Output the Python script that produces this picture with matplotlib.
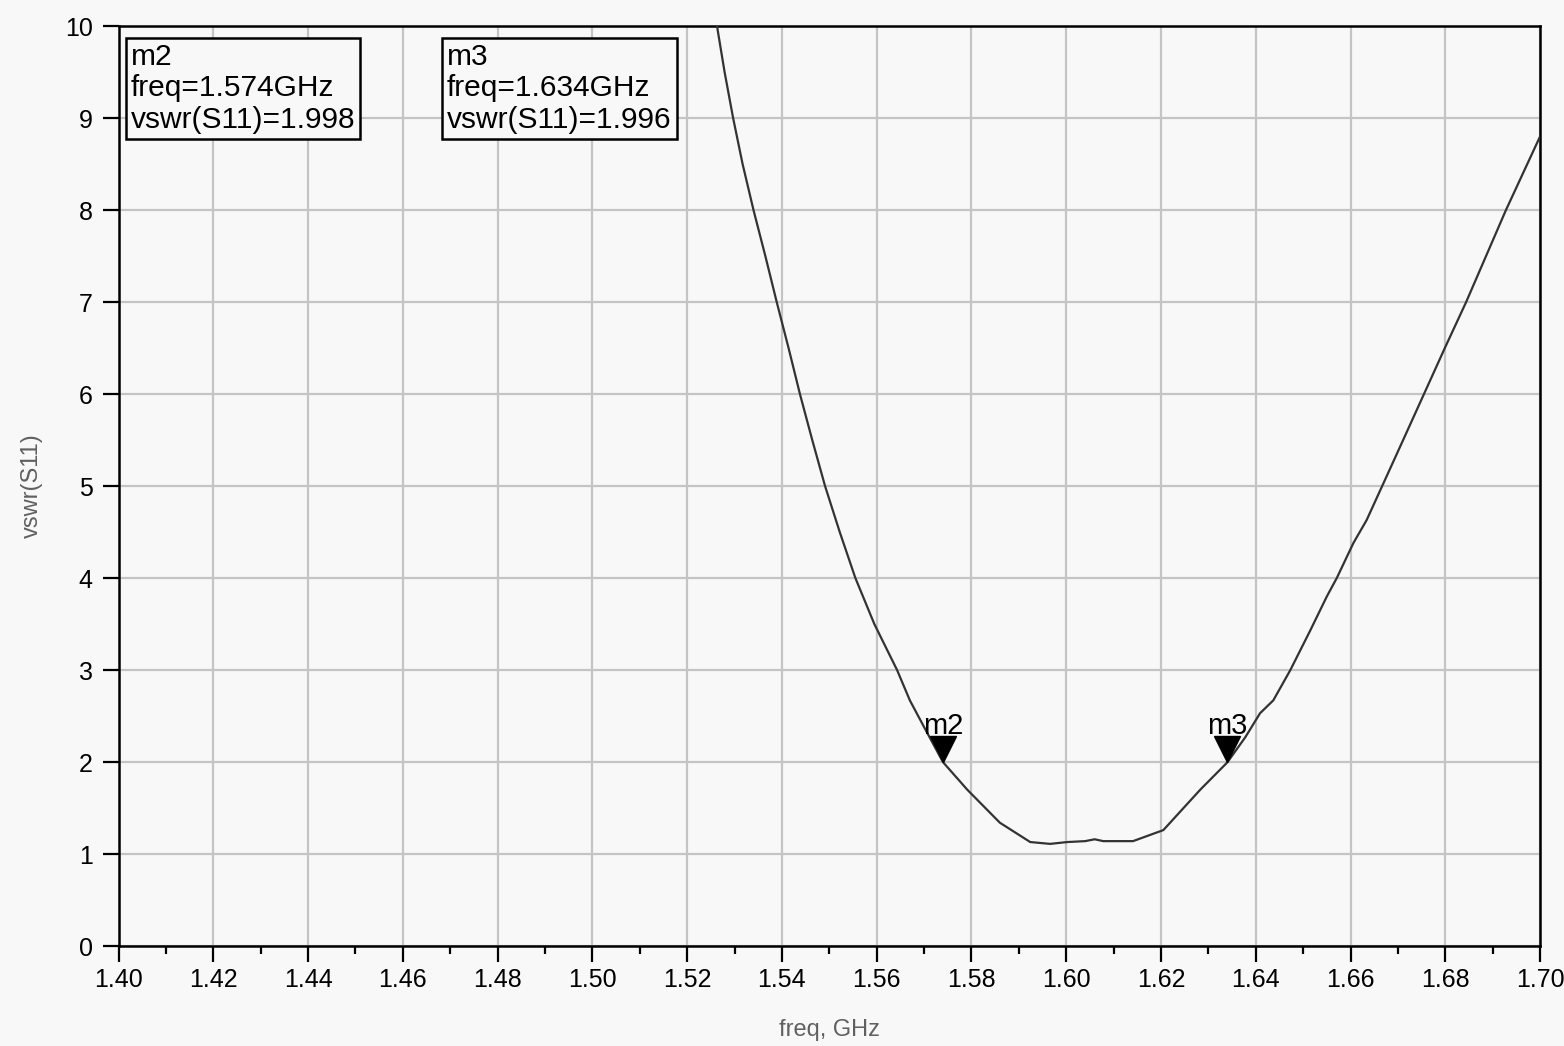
import matplotlib.pyplot as plt
import matplotlib.transforms as mtransforms
import numpy as np

plt.rcParams['font.family'] = ['Liberation Sans', 'DejaVu Sans']

# S11 VSWR sweep, freq in GHz
freq = [1.5240, 1.5263, 1.5279, 1.5297, 1.5317, 1.5340, 1.5365, 1.5389, 1.5414,
        1.5438, 1.5464, 1.5491, 1.5522, 1.5555, 1.5595, 1.5643, 1.5670, 1.5700,
        1.5740, 1.5791, 1.5860, 1.5924, 1.5966, 1.6002, 1.6040, 1.6060, 1.6078,
        1.6141, 1.6205, 1.6283, 1.6340, 1.6378, 1.6409, 1.6437, 1.6473, 1.6515,
        1.6550, 1.6571, 1.6606, 1.6634, 1.6673, 1.6711, 1.6755, 1.6799, 1.6844,
        1.6886, 1.6928, 1.7000]
vswr = [10.40, 10.00, 9.50, 9.00, 8.50, 8.00, 7.50, 7.00, 6.50,
        6.00, 5.50, 5.00, 4.50, 4.00, 3.50, 3.00, 2.67, 2.38,
        1.998, 1.70, 1.34, 1.13, 1.11, 1.13, 1.14, 1.16, 1.14,
        1.14, 1.26, 1.70, 1.996, 2.27, 2.53, 2.67, 3.00, 3.43,
        3.80, 4.00, 4.38, 4.63, 5.07, 5.50, 6.00, 6.50, 7.00,
        7.50, 8.00, 8.80]

marker_names = ["m2", "m3"]
marker_freq = [1.574, 1.634]
marker_vswr = [1.998, 1.996]

bg = '#f8f8f8'
fig = plt.figure(figsize=(15.64, 10.46), dpi=100, facecolor=bg)
ax = fig.add_axes([0.0758, 0.0956, 0.9089, 0.8795])
ax.set_facecolor(bg)

ax.plot(freq, vswr, color='#333333', lw=1.6, zorder=3, clip_on=True)

ax.set_xlim(1.40, 1.70)
ax.set_ylim(0, 10)
xt = np.arange(1.40, 1.7001, 0.02)
ax.set_xticks(xt)
ax.set_xticklabels(['%.2f' % v for v in xt])
ax.set_xticks(np.arange(1.41, 1.70, 0.02), minor=True)
ax.set_yticks(range(0, 11))

ax.grid(True, which='major', color='#c4c4c4', lw=1.6, zorder=0)
ax.tick_params(axis='both', which='major', direction='out', length=11.5, width=1.6,
               labelsize=18, colors='black')
ax.tick_params(axis='x', which='major', pad=4)
ax.tick_params(axis='y', which='major', pad=7)
ax.tick_params(axis='x', which='minor', direction='out', length=5.8, width=1.6)
for s in ax.spines.values():
    s.set_linewidth(1.8)
    s.set_color('black')

ax.set_xlabel('freq, GHz', fontsize=17, color='#606060', labelpad=20)
ax.set_ylabel('vswr(S11)', fontsize=17, color='#606060', labelpad=16)

# marker readout boxes
box_x = [0.0085, 0.2310]
for name, f, v, bx in zip(marker_names, marker_freq, marker_vswr, box_x):
    ax.text(bx, 0.982, '%s\nfreq=%.3fGHz\nvswr(S11)=%.3f' % (name, f, v),
            transform=ax.transAxes, ha='left', va='top', fontsize=21.5,
            linespacing=1.16,
            bbox=dict(boxstyle='square,pad=0.17', fc=bg, ec='black', lw=1.8),
            zorder=5)

# triangle markers sitting on the trace with their labels on top
up = mtransforms.offset_copy(ax.transData, fig=fig, x=0, y=9.5, units='points')
for name, f, v in zip(marker_names, marker_freq, marker_vswr):
    ax.plot([f], [v], marker='v', ms=19, color='black', transform=up, zorder=6)
    ax.annotate(name, (f, v), xytext=(0, 16), textcoords='offset points',
                ha='center', va='bottom', fontsize=21, zorder=6)

fig.savefig('out.png', dpi=100, facecolor=bg)
